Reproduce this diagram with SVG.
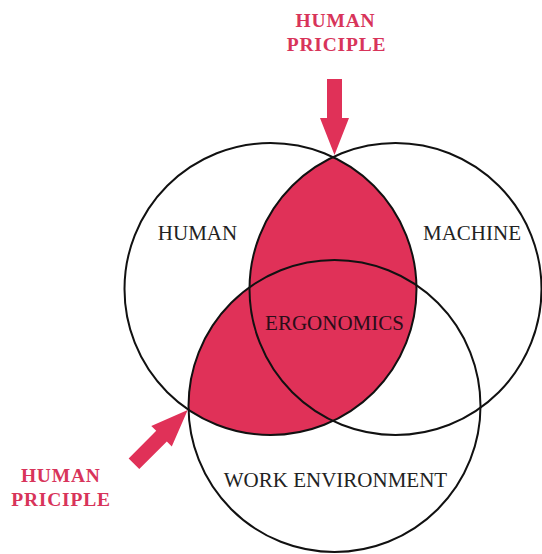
<svg xmlns="http://www.w3.org/2000/svg" width="542" height="554" viewBox="0 0 542 554">
  <style>
    .ring { fill: none; stroke: #111; stroke-width: 2; }
    .lbl { font-family: "Liberation Serif", "Times New Roman", serif; font-size: 21px; fill: #222; text-anchor: middle; }
    .core { fill: #2b0d18; }
    .hp { font-family: "Liberation Serif", "Times New Roman", serif; font-size: 19.5px; font-weight: bold; fill: #d8345a; text-anchor: middle; letter-spacing: 0.8px; }
    .arrow { fill: #e03158; }
    .red { fill: #e03158; }
  </style>
  <defs>
    <clipPath id="humanClip">
      <circle cx="270.5" cy="289" r="146"/>
    </clipPath>
    <polygon id="arr" points="-7.5,-76 7.5,-76 7.5,-37 14.5,-37 0,0 -14.5,-37 -7.5,-37"/>
  </defs>
  <rect width="542" height="554" fill="#ffffff"/>

  <g id="overlap-fill" clip-path="url(#humanClip)">
    <circle class="red" cx="395.5" cy="289" r="146"/>
    <circle class="red" cx="334.5" cy="406" r="146"/>
  </g>

  <g id="node-human">
    <circle class="ring" cx="270.5" cy="289" r="146"/>
    <text class="lbl" x="197.5" y="239.5">HUMAN</text>
  </g>
  <g id="node-machine">
    <circle class="ring" cx="395.5" cy="289" r="146"/>
    <text class="lbl" x="472" y="239.5">MACHINE</text>
  </g>
  <g id="node-work">
    <circle class="ring" cx="334.5" cy="406" r="146"/>
    <text class="lbl" x="335.5" y="487">WORK ENVIRONMENT</text>
  </g>
  <g id="node-ergonomics">
    <text class="lbl core" x="334.5" y="330">ERGONOMICS</text>
  </g>

  <g id="node-hp-top">
    <text class="hp" x="335.5" y="27">HUMAN</text>
    <text class="hp" x="336.5" y="51">PRICIPLE</text>
  </g>
  <g id="node-hp-left">
    <text class="hp" x="60.8" y="482">HUMAN</text>
    <text class="hp" x="61" y="506">PRICIPLE</text>
  </g>

  <g id="connectors">
    <use href="#arr" class="arrow" transform="translate(334.5,155)"/>
    <use href="#arr" class="arrow" transform="translate(187.7,410) rotate(-135)"/>
  </g>
</svg>
